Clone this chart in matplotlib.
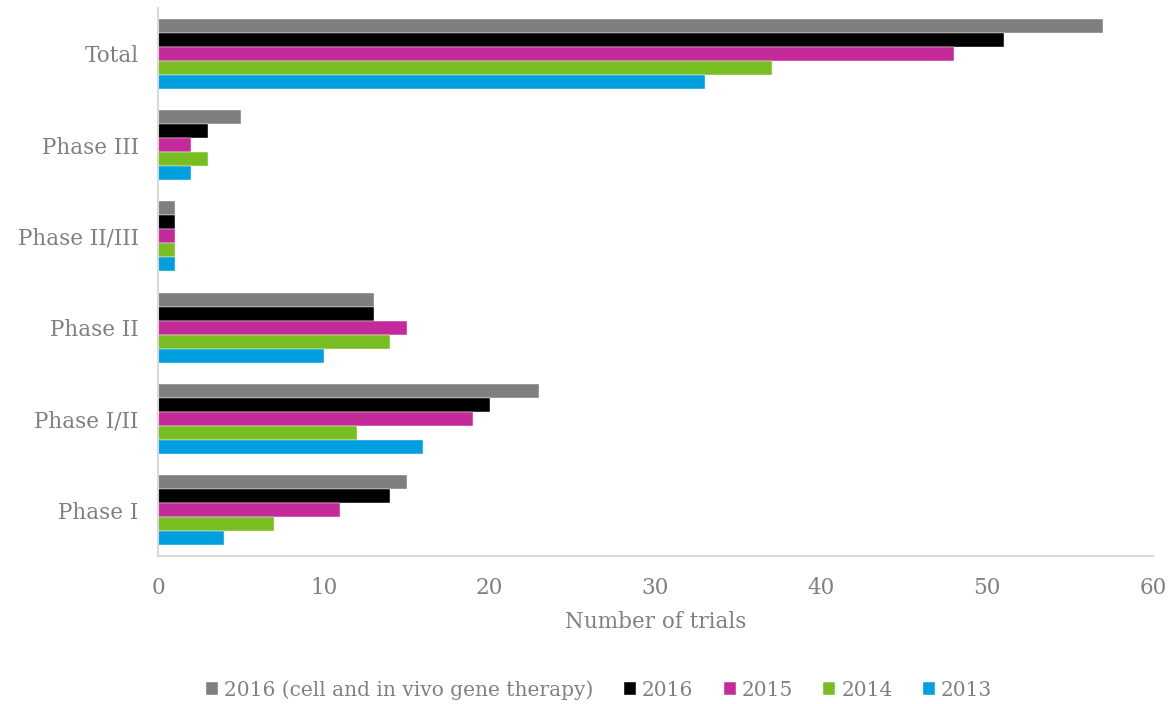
import matplotlib
matplotlib.use("Agg")
import matplotlib.pyplot as plt
import numpy as np

plt.rcParams['font.family'] = ['DejaVu Serif']

# trial counts per phase (bottom to top on the chart)
phases = ['Phase I', 'Phase I/II', 'Phase II', 'Phase II/III', 'Phase III', 'Total']
cell_gene_2016 = [15, 23, 13, 1, 5, 57]
y2016 = [14, 20, 13, 1, 3, 51]
y2015 = [11, 19, 15, 1, 2, 48]
y2014 = [7, 12, 14, 1, 3, 37]
y2013 = [4, 16, 10, 1, 2, 33]

series = [
    ('2016 (cell and in vivo gene therapy)', cell_gene_2016, '#7f7f7f'),
    ('2016', y2016, '#000000'),
    ('2015', y2015, '#c52a9b'),
    ('2014', y2014, '#78bd21'),
    ('2013', y2013, '#009fdf'),
]

txt = '#808080'
grid_col = '#d9d9d9'

fig = plt.figure(figsize=(11.75, 7.04), dpi=100)
ax = fig.add_axes([0.1345, 0.2102, 0.8468, 0.7784])

y = np.arange(len(phases))
h = 0.153
for i, (name, vals, col) in enumerate(series):
    off = (2 - i) * h
    ax.barh(y + off, vals, height=h, color=col, edgecolor='white',
            linewidth=0.3, label=name)

ax.set_xlim(0, 60)
ax.set_ylim(-0.5, 5.5)
ax.set_xticks(range(0, 61, 10))
ax.set_yticks(y)
ax.set_yticklabels(phases)
ax.tick_params(length=0, labelcolor=txt, labelsize=15.5)
ax.tick_params(axis='x', pad=15)
ax.tick_params(axis='y', pad=14)
for s in ['top', 'right']:
    ax.spines[s].set_visible(False)
for s in ['left', 'bottom']:
    ax.spines[s].set_color(grid_col)
    ax.spines[s].set_linewidth(1.5)

ax.set_xlabel('Number of trials', color=txt, fontsize=15.5, labelpad=9)

fig.legend(loc='center', bbox_to_anchor=(0.51, 0.02), ncol=5, frameon=False,
           fontsize=14.5, labelcolor=txt, handlelength=0.6, handleheight=0.6,
           handletextpad=0.3, columnspacing=1.5)

fig.savefig('out.png', dpi=100)
